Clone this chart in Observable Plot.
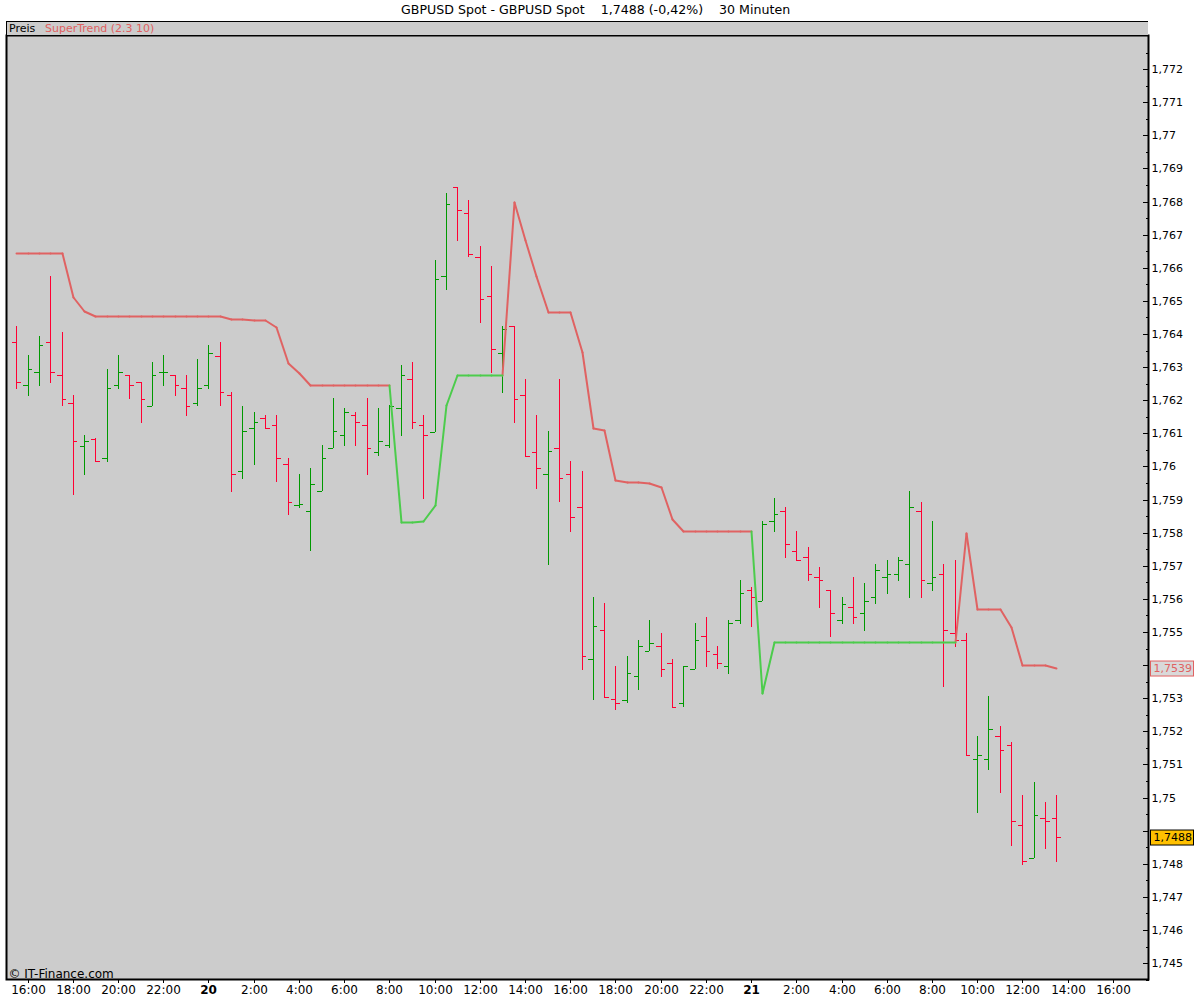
<!DOCTYPE html>
<html>
<head>
<meta charset="utf-8">
<script src="https://cdn.jsdelivr.net/npm/d3@7"></script>
<script src="https://cdn.jsdelivr.net/npm/@observablehq/plot@0.6"></script>
<style>
  body { margin: 0; background: #fff; font-family: "DejaVu Sans", sans-serif; }
  #wrap { position: relative; width: 1200px; height: 1000px; overflow: hidden; background: #fff; }
  #title { position: absolute; left: 401px; top: 2px; font-size: 12.6px; line-height: 16px; color: #000; white-space: pre; }
  #chart { position: absolute; left: 0; top: 21px; }
  #legend { position: absolute; left: 6px; top: 21px; width: 1141px; height: 13px; background: #cccccc;
            border-top: 1px solid #000; border-left: 1px solid #000; font-size: 11px; line-height: 13px; white-space: pre; }
  #legend span { position: absolute; top: 0; }
</style>
</head>
<body>
<div id="wrap">
  <div id="title">GBPUSD Spot - GBPUSD Spot    1,7488 (-0,42%)    30 Minuten</div>
  <div id="chart"></div>
  <div id="legend"><span style="left:2px;color:#000">Preis</span><span style="left:38px;color:#e06060">SuperTrend (2.3 10)</span></div>
</div>
<script>
// ---- data: 30-minute OHLC bars from 19th 15:30 to 21st 13:30 ----
const firstBarHour = 15.5;   // hours after 19th 00:00
const barStepHours = 0.5;

const opens = [1.76375,1.76245,1.76284,1.76375,1.76275,1.76193,1.76063,1.76084,1.76024,1.76245,
  1.76275,1.76254,1.76184,1.76284,1.76275,1.76236,1.76193,1.76245,1.76335,1.76215,
  1.75986,1.76115,1.76145,1.76124,1.76006,1.75885,1.75864,1.75925,1.76055,1.76094,
  1.76154,1.76124,1.76045,1.76064,1.76175,1.76263,1.76124,1.76105,1.76574,1.76844,
  1.76764,1.76634,1.76514,1.76344,1.76424,1.76215,1.76044,1.75976,1.76055,1.75976,
  1.75877,1.75417,1.75505,1.75297,1.75296,1.75366,1.75444,1.75457,1.75405,1.75287,
  1.75387,1.75488,1.75435,1.75396,1.75535,1.75627,1.75595,1.75834,1.75864,1.75746,
  1.75725,1.75665,1.75627,1.75535,1.75574,1.75556,1.75605,1.75665,1.75674,1.75704,
  1.75864,1.75647,1.75674,1.75496,1.75475,1.75115,1.75115,1.75185,1.75158,1.74916,
  1.74816,1.74938,1.74938];
const highs = [1.76424,1.76336,1.76394,1.76575,1.76406,1.76215,1.76095,1.76085,1.76294,1.76336,
  1.76275,1.76254,1.76315,1.76336,1.76275,1.76275,1.76324,1.76366,1.76376,1.76224,
  1.76184,1.76164,1.76155,1.76155,1.76025,1.75977,1.75995,1.76064,1.76206,1.76175,
  1.76164,1.76206,1.76175,1.76185,1.76305,1.76314,1.76154,1.76623,1.76826,1.76844,
  1.76804,1.76665,1.76605,1.76424,1.76424,1.76263,1.76154,1.76107,1.76263,1.76016,
  1.75986,1.75605,1.75587,1.75397,1.75427,1.75476,1.75536,1.75497,1.75418,1.75397,
  1.75527,1.75546,1.75457,1.75536,1.75657,1.75637,1.75835,1.75904,1.75876,1.75805,
  1.75756,1.75695,1.75627,1.75605,1.75665,1.75647,1.75704,1.75716,1.75725,1.75925,
  1.75894,1.75834,1.75704,1.75716,1.75496,1.75186,1.75306,1.75216,1.75168,1.75007,
  1.75047,1.74986,1.75007];
const lows = [1.76235,1.76213,1.76244,1.76253,1.76183,1.75914,1.75975,1.76015,1.76014,1.76235,
  1.76204,1.76132,1.76184,1.76244,1.76213,1.76153,1.76183,1.76235,1.76183,1.75923,
  1.75963,1.76005,1.76115,1.75954,1.75854,1.75875,1.75745,1.75925,1.76055,1.76062,
  1.76062,1.75975,1.76032,1.76055,1.76093,1.76114,1.75902,1.76105,1.76534,1.76682,
  1.76633,1.76434,1.76283,1.76222,1.76132,1.76032,1.75933,1.75703,1.75893,1.75803,
  1.75386,1.75295,1.75304,1.75265,1.75286,1.75325,1.75444,1.75365,1.75274,1.75274,
  1.75387,1.75395,1.75387,1.75374,1.75525,1.75516,1.75595,1.75803,1.75724,1.75716,
  1.75655,1.75573,1.75486,1.75525,1.75525,1.75504,1.75585,1.75615,1.75655,1.75603,
  1.75603,1.75624,1.75335,1.75455,1.75127,1.74954,1.75083,1.75014,1.74853,1.74796,
  1.74816,1.74845,1.74806];
const closes = [1.76254,1.76294,1.76366,1.76284,1.76205,1.76076,1.76076,1.76015,1.76236,1.76284,
  1.76245,1.76205,1.76275,1.76285,1.76245,1.76184,1.76236,1.76344,1.76224,1.75976,
  1.76106,1.76133,1.76115,1.76025,1.75894,1.75886,1.75946,1.76025,1.76106,1.76163,
  1.76133,1.76055,1.76076,1.76184,1.76276,1.76133,1.76094,1.76566,1.76794,1.76773,
  1.76643,1.76505,1.76354,1.76414,1.76205,1.76032,1.75994,1.76046,1.75964,1.75846,
  1.75427,1.75517,1.75304,1.75287,1.75375,1.75457,1.75466,1.75387,1.75274,1.75397,
  1.75476,1.75444,1.75405,1.75526,1.75617,1.75605,1.75825,1.75855,1.75765,1.75716,
  1.75674,1.75656,1.75556,1.75585,1.75545,1.75595,1.75686,1.75674,1.75716,1.75876,
  1.75657,1.75665,1.75505,1.75475,1.75127,1.75127,1.75206,1.75145,1.74928,1.74807,
  1.74947,1.74928,1.7488];
// SuperTrend (2.3 10) indicator value per bar
const superTrend = [1.76645,1.76645,1.76645,1.76645,1.76645,1.76511,1.76469,1.76454,1.76454,1.76454,
  1.76454,1.76454,1.76454,1.76454,1.76454,1.76454,1.76454,1.76454,1.76454,1.76446,
  1.76445,1.76443,1.76442,1.76422,1.76311,1.76281,1.76246,1.76246,1.76246,1.76246,
  1.76246,1.76246,1.76246,1.76246,1.75832,1.75833,1.75835,1.75883,1.76185,1.76276,
  1.76276,1.76276,1.76276,1.76276,1.76799,1.76684,1.76575,1.76467,1.76467,1.76467,
  1.76345,1.76116,1.7611,1.75959,1.75953,1.75952,1.7595,1.75938,1.75841,1.75806,
  1.75806,1.75806,1.75806,1.75806,1.75806,1.75806,1.75315,1.7547,1.7547,1.7547,
  1.7547,1.7547,1.7547,1.7547,1.7547,1.7547,1.7547,1.7547,1.7547,1.7547,
  1.7547,1.7547,1.7547,1.7547,1.758,1.75568,1.75568,1.75568,1.75516,1.754,
  1.754,1.754,1.7539];

// axis ticks
const xHourTicks = [16,18,20,22,26,28,30,32,34,36,38,40,42,44,46,50,52,54,56,58,60,62,64];
const xHourLabels = ["16:00","18:00","20:00","22:00","2:00","4:00","6:00","8:00","10:00","12:00","14:00","16:00",
  "18:00","20:00","22:00","2:00","4:00","6:00","8:00","10:00","12:00","14:00","16:00"];
const xDayTicks = [24, 48];
const xDayLabels = ["20", "21"];
const yMajorTicks = d3.range(1745, 1773).map(v => v / 1000);
const yMinorTicks = d3.range(1744.5, 1773.5, 1).map(v => v / 1000);

// ---- styling ----
const upColor = "#009900", downColor = "#ff0033";
const trendDown = "#e06262", trendUp = "#4ccc4c";

const bars = opens.map((o, i) => ({
  t: firstBarHour + i * barStepHours, open: o, high: highs[i], low: lows[i], close: closes[i], trend: superTrend[i]
}));
bars.forEach(b => { b.color = b.close >= b.open ? upColor : downColor; b.up = b.close > b.trend; });
const segs = bars.slice(1).map((b, i) => ({x1: bars[i].t, y1: bars[i].trend, x2: b.t, y2: b.trend, up: b.up}));

const hourLabel = new Map(xHourTicks.map((d, i) => [d, xHourLabels[i]]));
const dayLabel = new Map(xDayTicks.map((d, i) => [d, xDayLabels[i]]));
const fmtY = d => String(+d.toFixed(3)).replace(".", ",");
const fmt4 = d => d.toFixed(4).replace(".", ",");
const tickLen = 0.2;
const last = bars[bars.length - 1];
// price labels hidden behind the last-value boxes
const yLabelTicks = yMajorTicks.filter(v => Math.abs(v - last.close) > 0.0006 && Math.abs(v - last.trend) > 0.0006);

const chart = Plot.plot({
  width: 1200, height: 979,
  marginTop: 14, marginBottom: 21, marginLeft: 6, marginRight: 52,
  style: {background: "transparent", fontFamily: "'DejaVu Sans', sans-serif", fontSize: "11px", color: "#000"},
  x: {domain: [15.044, 65.556], round: true},
  y: {domain: [1.74452, 1.77303], round: true},
  color: {type: "identity"},
  marks: [
    Plot.frame({fill: "#cccccc", stroke: null}),
    Plot.ruleX(bars, {x: "t", y1: "low", y2: "high", stroke: "color", strokeWidth: 1}),
    Plot.ruleY(bars, {y: "open", x1: d => d.t - tickLen, x2: "t", stroke: "color", strokeWidth: 1}),
    Plot.ruleY(bars, {y: "close", x1: "t", x2: d => d.t + tickLen, stroke: "color", strokeWidth: 1}),
    Plot.link(segs.filter(s => !s.up), {x1: "x1", y1: "y1", x2: "x2", y2: "y2", stroke: trendDown, strokeWidth: 2, strokeLinecap: "round"}),
    Plot.link(segs.filter(s => s.up), {x1: "x1", y1: "y1", x2: "x2", y2: "y2", stroke: trendUp, strokeWidth: 2, strokeLinecap: "round"}),
    Plot.axisY({anchor: "right", ticks: yMinorTicks, tickSize: -3, tickFormat: () => "", label: null, stroke: "#000"}),
    Plot.axisY({anchor: "right", ticks: yMajorTicks, tickSize: -6, tickFormat: () => "", label: null, stroke: "#000"}),
    Plot.axisY({anchor: "right", ticks: yLabelTicks, tickSize: 0, tickPadding: 3, tickFormat: fmtY, label: null, fontSize: 11, fill: "#000"}),
    Plot.axisX({anchor: "bottom", ticks: xHourTicks, tickSize: 4, tickPadding: 2, tickFormat: d => hourLabel.get(d), label: null, fontSize: 12, fill: "#000"}),
    Plot.axisX({anchor: "bottom", ticks: xDayTicks, tickSize: 4, tickPadding: 2, tickFormat: d => dayLabel.get(d), label: null, fontSize: 12, fontWeight: "bold", fill: "#000"}),
    Plot.text(["© IT-Finance.com"], {frameAnchor: "bottom-left", dx: 2, dy: -2, lineAnchor: "bottom", textAnchor: "start", fontSize: 12, fill: "#000"}),
    Plot.frame({stroke: "#000", strokeWidth: 2}),
    Plot.text([last.trend], {y: d => d, frameAnchor: "right", dx: 5, textAnchor: "start", text: fmt4, fill: "#e06262", fontSize: 11, className: "boxtrend"}),
    Plot.text([last.close], {y: d => d, frameAnchor: "right", dx: 5, textAnchor: "start", text: fmt4, fill: "#000", fontSize: 11, className: "boxclose"})
  ]
});
document.getElementById("chart").appendChild(chart);

// background boxes behind the last-value labels
function boxify(cls, fill, stroke) {
  d3.select(chart).selectAll(`g.${cls} text`).each(function () {
    const b = this.getBBox();
    d3.select(this.parentNode).insert("rect", () => this)
      .attr("transform", this.getAttribute("transform"))
      .attr("x", b.x - 3).attr("y", b.y - 1).attr("width", 43).attr("height", b.height + 2)
      .attr("fill", fill).attr("stroke", stroke).attr("stroke-width", 1);
  });
}
boxify("boxtrend", "#d9d9d9", "#e06262");
boxify("boxclose", "#ffc000", "#000");
</script>
</body>
</html>
